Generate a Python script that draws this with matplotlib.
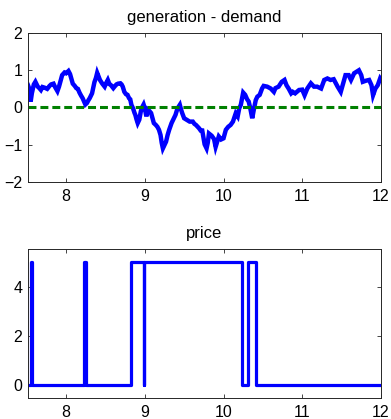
import numpy as np
import matplotlib
matplotlib.use('Agg')
import matplotlib.pyplot as plt

# generation - demand
gd_t = [7.516, 7.525, 7.540, 7.550, 7.565, 7.590, 7.610, 7.640, 7.660, 7.680,
        7.700, 7.730, 7.760, 7.790, 7.810, 7.840, 7.860, 7.890, 7.910, 7.930,
        7.950, 7.980, 8.000, 8.030, 8.050, 8.070, 8.085, 8.110, 8.130, 8.150,
        8.170, 8.190, 8.210, 8.230, 8.245, 8.265, 8.285, 8.300, 8.330, 8.360,
        8.380, 8.395, 8.410, 8.430, 8.460, 8.490, 8.510, 8.530, 8.550, 8.570,
        8.600, 8.615, 8.640, 8.660, 8.690, 8.705, 8.720, 8.740, 8.760, 8.780,
        8.800, 8.815, 8.830, 8.850, 8.870, 8.880, 8.895, 8.910, 8.930, 8.950,
        8.970, 8.985, 9.000, 9.020, 9.040, 9.060, 9.080, 9.100, 9.115, 9.140,
        9.160, 9.180, 9.200, 9.215, 9.230, 9.250, 9.270, 9.290, 9.310, 9.340,
        9.370, 9.390, 9.410, 9.430, 9.445, 9.460, 9.475, 9.500, 9.530, 9.570,
        9.610, 9.630, 9.650, 9.690, 9.710, 9.730, 9.760, 9.785, 9.800, 9.815,
        9.850, 9.880, 9.900, 9.920, 9.940, 9.970, 10.000, 10.030, 10.060, 10.090,
        10.120, 10.155, 10.180, 10.200, 10.220, 10.240, 10.250, 10.275, 10.300, 10.320,
        10.340, 10.365, 10.385, 10.410, 10.430, 10.460, 10.490, 10.510, 10.555, 10.600,
        10.640, 10.660, 10.700, 10.740, 10.775, 10.800, 10.830, 10.860, 10.880, 10.910,
        10.960, 11.000, 11.030, 11.065, 11.110, 11.150, 11.190, 11.240, 11.280, 11.320,
        11.360, 11.400, 11.450, 11.490, 11.520, 11.550, 11.590, 11.620, 11.660, 11.690,
        11.720, 11.750, 11.770, 11.810, 11.850, 11.880, 11.900, 11.930, 11.960, 11.990,
        12.000]
gd_v = [0.60, 0.55, 0.30, 0.16, 0.38, 0.62, 0.69, 0.56, 0.52, 0.47,
        0.55, 0.53, 0.50, 0.58, 0.62, 0.64, 0.55, 0.44, 0.56, 0.72,
        0.87, 0.94, 0.92, 0.98, 0.90, 0.75, 0.64, 0.58, 0.52, 0.50,
        0.40, 0.32, 0.25, 0.15, 0.08, 0.12, 0.20, 0.25, 0.38, 0.68,
        0.80, 0.93, 0.85, 0.74, 0.64, 0.56, 0.66, 0.74, 0.63, 0.60,
        0.52, 0.56, 0.62, 0.64, 0.65, 0.62, 0.56, 0.42, 0.36, 0.34,
        0.25, 0.22, 0.07, -0.02, -0.15, -0.20, -0.32, -0.42, -0.33, -0.10,
        0.02, 0.08, -0.02, -0.24, -0.06, -0.10, -0.15, -0.30, -0.42, -0.47,
        -0.52, -0.60, -0.74, -0.95, -1.10, -1.01, -0.92, -0.74, -0.60, -0.42,
        -0.29, -0.20, -0.06, 0.02, 0.07, -0.05, -0.15, -0.29, -0.33, -0.38,
        -0.38, -0.44, -0.47, -0.56, -0.62, -0.62, -0.99, -1.10, -0.95, -0.70,
        -0.76, -0.85, -1.06, -0.92, -0.78, -0.86, -0.83, -0.60, -0.52, -0.47,
        -0.38, -0.16, -0.24, -0.02, 0.07, 0.30, 0.40, 0.34, 0.22, 0.16,
        -0.02, -0.29, -0.06, 0.20, 0.29, 0.34, 0.51, 0.58, 0.56, 0.51,
        0.42, 0.52, 0.56, 0.69, 0.74, 0.60, 0.50, 0.38, 0.42, 0.38,
        0.47, 0.48, 0.33, 0.51, 0.65, 0.56, 0.56, 0.51, 0.74, 0.78,
        0.74, 0.76, 0.56, 0.42, 0.65, 0.87, 0.87, 0.74, 0.92, 0.96,
        1.00, 0.87, 0.69, 0.72, 0.74, 0.60, 0.33, 0.51, 0.60, 0.78,
        0.75]

# price switches (step, value holds until next time)
price_t = [7.516, 7.552, 7.566, 8.222, 8.238, 8.242, 8.258, 8.830,
           8.984, 8.996, 10.238, 10.314, 10.410, 12.0]
price_v = [0, 5, 0, 5, 0, 5, 0, 5, 0, 5, 0, 5, 0, 0]

xticks = [8, 9, 10, 11, 12]

plt.rcParams['font.family'] = ['Liberation Sans', 'DejaVu Sans']
plt.rcParams['font.size'] = 11
plt.rcParams['axes.linewidth'] = 0.7
plt.rcParams['axes.edgecolor'] = '#262626'
plt.rcParams['xtick.direction'] = 'in'
plt.rcParams['ytick.direction'] = 'in'
plt.rcParams['xtick.top'] = True
plt.rcParams['ytick.right'] = True

fig = plt.figure(figsize=(3.91, 4.19), dpi=100)
ax1 = fig.add_axes([0.0716, 0.566, 0.9026, 0.355])
ax2 = fig.add_axes([0.0716, 0.050, 0.9026, 0.356])

ax1.plot(gd_t, gd_v, color='#0000ff', lw=3.2, solid_joinstyle='miter')
ax1.axhline(0, color='#008000', lw=2.2, ls=(0, (2.6, 1.3)))
ax1.set_xlim(7.516, 12)
ax1.set_ylim(-2, 2)
ax1.set_yticks([-2, -1, 0, 1, 2])
ax1.set_title('generation - demand', fontsize=12, pad=8)

ax2.step(price_t, price_v, where='post', color='#0000ff', lw=2.3)
ax2.set_xlim(7.516, 12)
ax2.set_ylim(-0.55, 5.55)
ax2.set_yticks([0, 2, 4])
ax2.set_title('price', fontsize=12, pad=8)

for ax in (ax1, ax2):
    ax.set_xticks(xticks)
    ax.tick_params(axis='both', length=3, width=0.6, labelsize=11.5, colors='#262626')
    ax.tick_params(axis='x', pad=5)
    ax.tick_params(axis='y', pad=4)
    for lab in ax.get_xticklabels() + ax.get_yticklabels():
        lab.set_color('black')

fig.savefig('out.png', dpi=100)
